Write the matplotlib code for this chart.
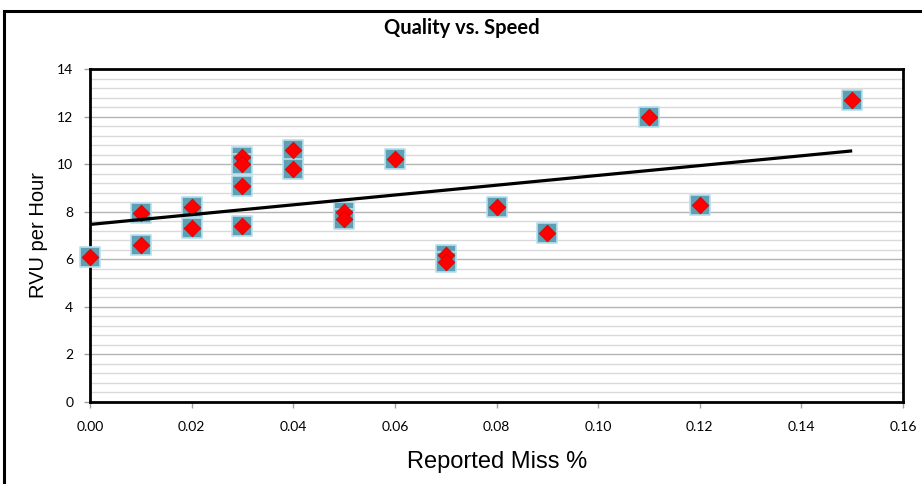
import numpy as np
import matplotlib
matplotlib.use("Agg")
import matplotlib.pyplot as plt
from matplotlib.patches import Rectangle
from matplotlib.ticker import MultipleLocator, FormatStrFormatter

# Data
miss_pct = [0.00, 0.01, 0.01, 0.02, 0.02, 0.03, 0.03, 0.03, 0.03, 0.04, 0.04,
            0.05, 0.05, 0.06, 0.07, 0.07, 0.08, 0.09, 0.11, 0.12, 0.15]
rvu_per_hour = [6.1, 7.95, 6.6, 8.2, 7.3, 10.3, 10.0, 9.1, 7.4, 10.6, 9.8,
                8.0, 7.7, 10.2, 6.2, 5.9, 8.2, 7.1, 12.0, 8.3, 12.7]
title = "Quality vs. Speed"
xlabel = "Reported Miss %"
ylabel = "RVU per Hour"

x = np.array(miss_pct)
y = np.array(rvu_per_hour)

fig = plt.figure(figsize=(9.22, 4.84), dpi=100)
fig.patch.set_facecolor("white")

# outer chart frame
fig.patches.append(Rectangle((3.5 / 922, -0.05), 1.2, 1 - 11 / 484 + 0.05,
                             transform=fig.transFigure, fill=False,
                             edgecolor="black", linewidth=2.2))

ax = fig.add_axes([90 / 922, 1 - 402 / 484, (903 - 90) / 922, (402 - 69) / 484])
ax.set_xlim(0, 0.16)
ax.set_ylim(0, 14)

ax.yaxis.set_major_locator(MultipleLocator(2))
ax.yaxis.set_minor_locator(MultipleLocator(0.4))
ax.xaxis.set_major_locator(MultipleLocator(0.02))
ax.xaxis.set_major_formatter(FormatStrFormatter("%.2f"))
ax.grid(which="major", axis="y", color="#b3b3b3", linewidth=1.0, zorder=0)
ax.grid(which="minor", axis="y", color="#d9d9d9", linewidth=1.0, zorder=0)
ax.set_axisbelow(True)

for s in ax.spines.values():
    s.set_linewidth(2.0)
    s.set_color("black")

ax.tick_params(axis="both", which="major", direction="out", length=4,
               color="#a0a0a0", width=1, labelsize=10)
ax.tick_params(axis="y", which="minor", length=0)
ax.tick_params(axis="x", pad=10)
ax.tick_params(axis="y", pad=8)
for lab in ax.get_xticklabels() + ax.get_yticklabels():
    lab.set_fontfamily("Lato")

# markers: teal square with red diamond on top
ax.scatter(x, y, marker="s", s=200, facecolor="#5f9fb3", edgecolor="#b5e0ee",
           linewidth=1.2, zorder=3, clip_on=False)
ax.scatter(x, y, marker="D", s=72, facecolor="#ff0000", edgecolor="#d00000",
           linewidth=0.5, zorder=4, clip_on=False)

# linear trendline
slope, intercept = np.polyfit(x, y, 1)
xt = np.array([x.min(), x.max()])
ax.plot(xt, slope * xt + intercept, color="black", linewidth=2.3, zorder=5,
        solid_capstyle="butt")

fig.text(462 / 922, 1 - 34 / 484, title, ha="center", va="baseline",
         fontsize=14.5, fontweight="bold",
         family=["Liberation Sans Narrow", "Lato"])
fig.text(497 / 922, 1 - 468 / 484, xlabel, ha="center", va="baseline",
         fontsize=17, family="Liberation Sans")
fig.text(39 / 922, 1 - 235 / 484, ylabel, ha="center", va="center",
         fontsize=14.5, family="Liberation Sans", rotation=90)

fig.savefig("out.png", dpi=100, facecolor="white")
